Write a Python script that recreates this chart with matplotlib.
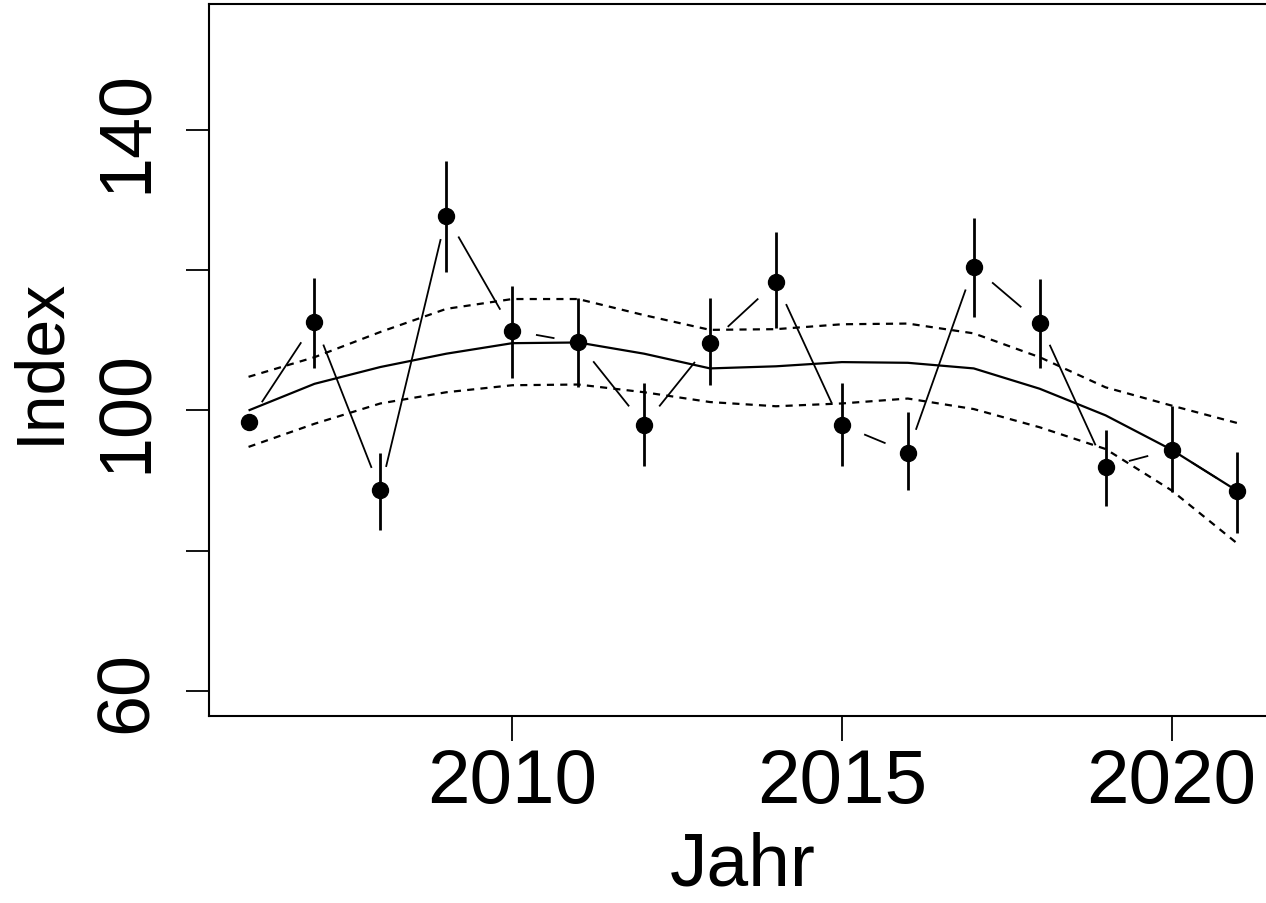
import numpy as np
import matplotlib
matplotlib.use("Agg")
import matplotlib.pyplot as plt

plt.rcParams["font.family"] = ["Liberation Sans", "DejaVu Sans"]

# yearly index with 95% limits, and the smoothed trend with its band
years = [2006, 2007, 2008, 2009, 2010, 2011, 2012, 2013,
         2014, 2015, 2016, 2017, 2018, 2019, 2020, 2021]
index = [98.3, 112.6, 88.6, 127.8, 111.4, 109.7, 97.9, 109.6,
         118.3, 97.9, 94.0, 120.5, 112.5, 91.9, 94.4, 88.5]
ci_low = [None, 106.1, 82.9, 119.7, 104.6, 103.4, 92.1, 103.7,
          111.7, 92.1, 88.7, 113.3, 106.0, 86.3, 88.4, 82.5]
ci_high = [None, 118.9, 93.9, 135.6, 117.8, 116.0, 103.9, 116.0,
           125.4, 103.9, 99.8, 127.5, 118.8, 97.2, 100.7, 94.1]

trend = [100.0, 103.8, 106.2, 108.1, 109.6, 109.7, 108.1, 106.0,
         106.3, 106.9, 106.8, 106.0, 103.1, 99.3, 94.4, 88.5]
trend_low = [94.8, 98.1, 101.0, 102.6, 103.6, 103.7, 102.6, 101.2,
             100.6, 101.0, 101.7, 100.2, 97.6, 94.5, 88.6, 81.0]
trend_high = [104.8, 107.6, 111.2, 114.5, 115.9, 115.9, 113.6, 111.5,
              111.6, 112.3, 112.4, 111.0, 107.6, 103.3, 100.7, 98.2]

W, H = 1266, 904
fig = plt.figure(figsize=(W / 100, H / 100), dpi=100)
# the box runs past the right edge of the canvas
ax = fig.add_axes([209 / W, (H - 717) / H, (1277 - 209) / W, (717 - 5) / H])
ax.set_xlim(2005.4, 2021.6)
ax.set_ylim(56.4, 158.0)

for sp in ax.spines.values():
    sp.set_linewidth(1.5)

yrs = np.array(years, dtype=float)
idx = np.array(index, dtype=float)

# trend and its band
ax.plot(yrs, trend, color="black", lw=1.6, solid_capstyle="butt")
for band in (trend_low, trend_high):
    ax.plot(yrs, band, color="black", lw=1.6, ls=(0, (3.2, 2.8)))

# error bars without caps
for x, lo, hi in zip(years, ci_low, ci_high):
    if lo is None:
        continue
    ax.plot([x, x], [lo, hi], color="black", lw=2.0, solid_capstyle="butt")

# points joined like type="b": segments stop short of each point
gap = 25.0
pts = ax.transData.transform(np.column_stack([yrs, idx]))
inv = ax.transData.inverted()
for p0, p1 in zip(pts[:-1], pts[1:]):
    d = p1 - p0
    dist = np.hypot(*d)
    if dist <= 2 * gap:
        continue
    u = d / dist
    seg = inv.transform(np.array([p0 + u * gap, p1 - u * gap]))
    ax.plot(seg[:, 0], seg[:, 1], color="black", lw=1.3)

ax.plot(yrs, idx, "o", color="black", ms=11.5, zorder=5)

ax.set_xticks([2010, 2015, 2020])
ax.set_yticks([60, 80, 100, 120, 140])
ax.set_yticklabels(["60", "", "100", "", "140"])
ax.tick_params(axis="x", length=18, width=1.3, pad=4, labelsize=55)
ax.tick_params(axis="y", length=16.5, width=1.3, pad=17.5, labelsize=53,
               labelrotation=90)
for lab in ax.get_yticklabels():
    lab.set_va("center")

ax.set_xlabel("Jahr", fontsize=54, labelpad=9)
ax.set_ylabel("Index", fontsize=49, labelpad=15)

fig.savefig("out.png", dpi=100)
